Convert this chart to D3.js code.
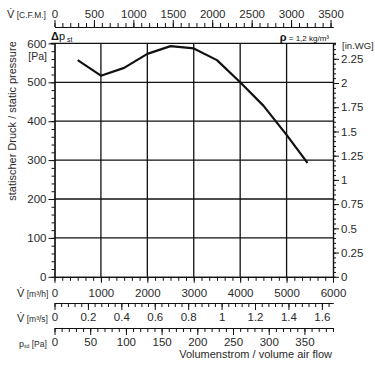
<!DOCTYPE html>
<html><head><meta charset="utf-8">
<script src="https://cdn.jsdelivr.net/npm/d3@7"></script>
<style>
body{margin:0;background:#fff;}
svg{display:block;font-family:"Liberation Sans",Arial,sans-serif;}
</style></head>
<body><svg id="c" width="375" height="366"></svg>
<script>
// ---- data ----
const flowM3h   = [500, 1000, 1500, 2000, 2500, 3000, 3500, 4000, 4500, 5000, 5450];
const pressurePa = [557, 517, 537, 573, 593, 587, 557, 500, 440, 365, 293];
const flowTicksM3h = [0, 1000, 2000, 3000, 4000, 5000, 6000];
const pressureTicksPa = [0, 100, 200, 300, 400, 500, 600];
const cfmTicks = [0, 500, 1000, 1500, 2000, 2500, 3000, 3500];
const m3sTicks = [0, 0.2, 0.4, 0.6, 0.8, 1, 1.2, 1.4, 1.6];
const pdTicks = [0, 50, 100, 150, 200, 250, 300, 350];
const inwgTicks = [0, 0.25, 0.5, 0.75, 1, 1.25, 1.5, 1.75, 2, 2.25];

const svg = d3.select("#c");
const L = 54.5, R = 333, T = 43.4, B = 276.8;
const x = d3.scaleLinear().domain([0, 6000]).range([L, R]);
const y = d3.scaleLinear().domain([0, 600]).range([B, T]);
const xCfm = d3.scaleLinear().domain([0, 6000 / 1.699011]).range([L, R]);
const xM3s = d3.scaleLinear().domain([0, 6000 / 3600]).range([L, R]);
const xPd  = d3.scaleLinear().domain([0, 390]).range([L, R]);
const yIn  = d3.scaleLinear().domain([0, 600 / 249.089]).range([B, T]);
const txt = "#2a2a2a";

// grid
const g = svg.append("g");
g.selectAll("line.v").data([1000,2000,3000,4000,5000]).join("line")
  .attr("x1", d => x(d)).attr("x2", d => x(d)).attr("y1", T).attr("y2", B)
  .attr("stroke", "#111").attr("stroke-width", 1.3);
g.selectAll("line.h").data([100,200,300,400,500]).join("line")
  .attr("x1", L).attr("x2", R).attr("y1", d => y(d)).attr("y2", d => y(d))
  .attr("stroke", "#111").attr("stroke-width", 1.3);
// frame top
g.append("line").attr("x1", L - 4).attr("x2", R + 3).attr("y1", T).attr("y2", T)
  .attr("stroke", "#111").attr("stroke-width", 1.3);

function styleAxis(sel, fs) {
  sel.selectAll("path.domain").attr("stroke", "#111").attr("stroke-width", 1.2);
  sel.selectAll(".tick line").attr("stroke", "#111").attr("stroke-width", 1);
  sel.selectAll("text").attr("fill", txt).style("font-size", fs + "px")
     .style("font-family", "'Liberation Sans',Arial,sans-serif");
}
function addAxis(axisFn, scale, translate, major, minor, majSize, minSize, fmt, fs, pad) {
  const mn = svg.append("g").attr("transform", translate)
    .call(axisFn(scale).tickValues(minor).tickFormat("").tickSize(minSize).tickSizeOuter(0));
  styleAxis(mn, fs);
  const mj = svg.append("g").attr("transform", translate)
    .call(axisFn(scale).tickValues(major).tickFormat(fmt).tickSize(majSize).tickSizeOuter(0).tickPadding(pad));
  styleAxis(mj, fs);
  return mj;
}

// left axis (Pa)
addAxis(d3.axisLeft, y, "translate(" + L + ",0)", pressureTicksPa,
  d3.range(0, 601, 20), 6, 3, d3.format("d"), 11.5, 2);
// right axis (in.WG)
addAxis(d3.axisRight, yIn, "translate(" + R + ",0)", inwgTicks,
  d3.range(0, 2.41, 0.05), 6, 3, d => d3.format("")(d), 11.5, 2);
// bottom of plot ticks + m3/h labels
addAxis(d3.axisBottom, x, "translate(0," + B + ")", flowTicksM3h,
  d3.range(0, 6001, 1000 / 6), 6, 4, d3.format("d"), 11.5, 6);
// top CFM axis
addAxis(d3.axisTop, xCfm, "translate(0,27)", cfmTicks,
  d3.range(0, 3501, 100), 7, 4, d3.format("d"), 11.5, 2);
// m3/s axis
addAxis(d3.axisBottom, xM3s, "translate(0,303)", m3sTicks,
  d3.range(0, 1.67, 0.04), 7, 4, d => d3.format("")(+d.toFixed(2)), 11.5, 3);
// dynamic pressure axis
addAxis(d3.axisBottom, xPd, "translate(0,328)", pdTicks,
  d3.range(0, 391, 10), 7, 4, d3.format("d"), 11.5, 3);

// curve
const line = d3.line().x((d, i) => x(flowM3h[i])).y(d => y(d));
svg.append("path").datum(pressurePa).attr("d", line)
  .attr("fill", "none").attr("stroke", "#111").attr("stroke-width", 2.2)
  .attr("stroke-linejoin", "round");

// labels
function vlabel(xp, yp, unit) {
  const t = svg.append("text").attr("x", xp).attr("y", yp).attr("fill", txt);
  t.append("tspan").text("V\u0307").style("font-size", "11px");
  t.append("tspan").text(" " + unit).style("font-size", "8.5px");
}
vlabel(7, 18, "[C.F.M.]");
vlabel(17, 297, "[m\u00B3/h]");
vlabel(17, 322, "[m\u00B3/s]");
const pt = svg.append("text").attr("x", 19).attr("y", 347).attr("fill", txt);
pt.append("tspan").text("p").style("font-size", "9px");
pt.append("tspan").text("sd").style("font-size", "5px").attr("dy", 1);
pt.append("tspan").text(" [Pa]").style("font-size", "8.5px").attr("dy", -1);

svg.append("text").attr("x", 332).attr("y", 358).attr("text-anchor", "end")
  .attr("fill", txt).style("font-size", "11px").text("Volumenstrom / volume air flow");
svg.append("text").attr("transform", "translate(16,121) rotate(-90)")
  .attr("text-anchor", "middle").attr("fill", txt).style("font-size", "11px")
  .text("statischer Druck / static pressure");
svg.append("text").attr("x", 47).attr("y", 60).attr("text-anchor", "end")
  .attr("fill", txt).style("font-size", "10.5px").text("[Pa]");
svg.append("text").attr("x", 342).attr("y", 49)
  .attr("fill", txt).style("font-size", "9.5px").text("[in.WG]");
const dp = svg.append("text").attr("x", 51).attr("y", 40).attr("fill", "#111");
dp.append("tspan").text("\u0394").style("font-size", "11px").style("font-weight", "bold");
dp.append("tspan").text("p").style("font-size", "11px");
dp.append("tspan").text(" st").style("font-size", "7px").attr("dy", 1.5);
const rho = svg.append("text").attr("x", 329).attr("y", 41).attr("text-anchor", "end").attr("fill", "#111");
rho.append("tspan").text("\u03C1").style("font-size", "11px").style("font-weight", "bold");
rho.append("tspan").text(" = 1,2 kg/m\u00B3").style("font-size", "8px");
</script></body></html>
